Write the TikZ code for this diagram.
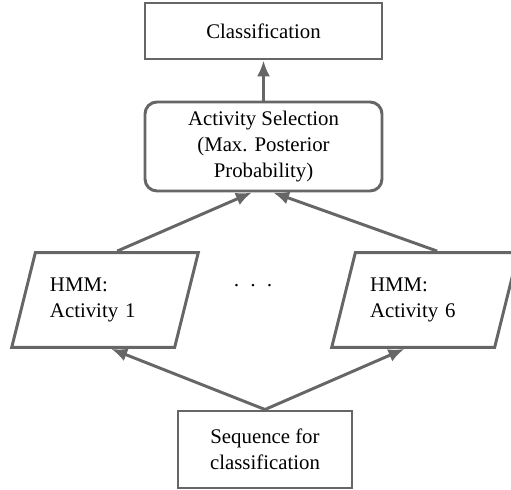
\documentclass[tikz,border=0pt]{standalone}
\usepackage{fontspec}
\setmainfont{Liberation Serif}
\usetikzlibrary{arrows.meta,calc,positioning,shapes.geometric}
\definecolor{linegray}{HTML}{666666}

\begin{document}
\begin{tikzpicture}[
  >={Latex[length=0.4cm,width=0.33cm]},
  font=\fontsize{14.8}{18.2}\selectfont,
  box/.style={draw=linegray,line width=2.1pt,minimum width=5.925cm,minimum height=1.4cm,align=center},
  hmm/.style={trapezium,trapezium left angle=76,trapezium right angle=104,
    draw=linegray,line width=2.1pt,inner xsep=0.366cm,inner ysep=0.639cm,
    text width=2.75cm,align=left},
  link/.style={->,draw=linegray,line width=2.1pt}
]
  \useasboundingbox (0,0) rectangle (12.775,12.25);

  \node[box] (class) at (6.5875,11.475) {Classification};
  \node[box,rounded corners=0.3cm,minimum height=2.225cm] (sel) at (6.5875,8.5875)
    {Activity Selection\\(Max. Posterior\\Probability)};
  \node[hmm] (hmmA) at (2.625,4.75) {HMM:\\Activity 1};
  \node[hmm] (hmmB) at (10.625,4.75) {HMM:\\Activity 6};
  \node[anchor=base] (dots) at (6.325,4.925) {·\hspace{0.24cm}·\hspace{0.24cm}·};
  \node[box,minimum width=4.35cm,minimum height=1.925cm] (seq) at (6.625,1.0125)
    {Sequence for\\classification};

  \coordinate (selInA) at ($(sel.south)+(-0.29,0)$);
  \coordinate (selInB) at ($(sel.south)+(0.24,0)$);
  \coordinate (hmmInA) at ($(hmmA.bottom side)+(0.46,0)$);
  \coordinate (hmmInB) at ($(hmmB.bottom side)+(-0.21,0)$);

  \draw[link] (sel) -- (class);
  \draw[link] (hmmA.top side) -- (selInA);
  \draw[link] (hmmB.top side) -- (selInB);
  \draw[link] (seq.north) -- (hmmInA);
  \draw[link] (seq.north) -- (hmmInB);
\end{tikzpicture}
\end{document}
